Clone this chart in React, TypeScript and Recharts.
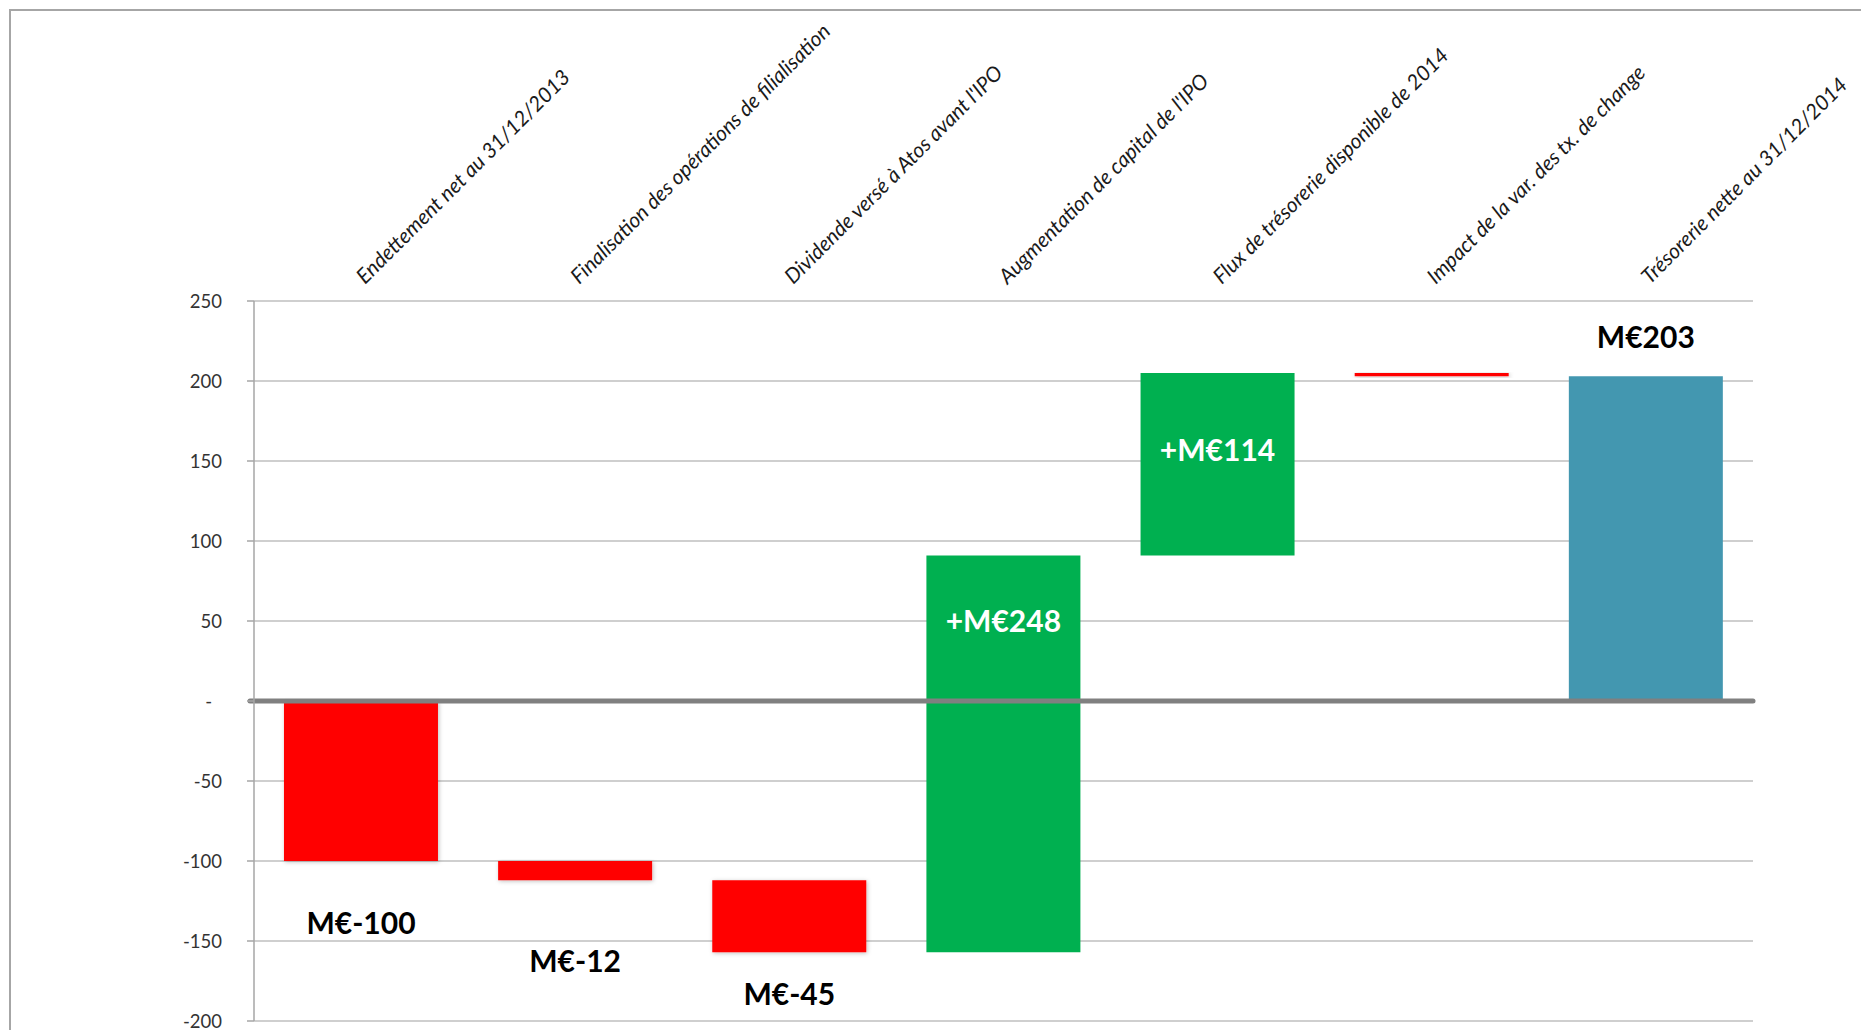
import React from 'react'
import {
  BarChart, Bar, XAxis, YAxis, CartesianGrid, ReferenceLine, Cell, LabelList,
} from 'recharts'

const CATEGORIES = [
  'Endettement net au 31/12/2013',
  'Finalisation des opérations de filialisation',
  "Dividende versé à Atos avant l'IPO",
  "Augmentation de capital de l'IPO",
  'Flux de trésorerie disponible de 2014',
  'Impact de la var. des tx. de change',
  'Trésorerie nette au 31/12/2014',
]
const DELTAS = [-100, -12, -45, 248, 114, -2, 203]
const IS_TOTAL = [true, false, false, false, false, false, true]
const VALUE_LABELS = ['M€-100', 'M€-12', 'M€-45', '+M€248', '+M€114', '', 'M€203']
const Y_TICKS = [-200, -150, -100, -50, 0, 50, 100, 150, 200, 250]

const RED = '#FF0000'
const GREEN = '#00B050'
const TEAL = '#4397B0'
const FONT = 'Lato, "Open Sans", sans-serif'

// where each value label sits: below the bar, inside near the top, or above it
const LABEL_PLACE = ['below', 'below', 'below', 'inside', 'inside', 'none', 'above']
const LABEL_OFFSET = [62, 81, 42, 66, 77, 0, 39]

// waterfall: each step is a [low, high] range bar
let running = 0
const chartData = CATEGORIES.map((name, i) => {
  const start = IS_TOTAL[i] ? 0 : running
  const end = IS_TOTAL[i] ? DELTAS[i] : running + DELTAS[i]
  running = end
  return {
    name,
    range: [Math.min(start, end), Math.max(start, end)],
    delta: DELTAS[i],
    total: IS_TOTAL[i],
    label: VALUE_LABELS[i],
  }
})

const barColor = (d: { delta: number; total: boolean }) => {
  if (d.delta < 0) return RED
  return d.total ? TEAL : GREEN
}

function CategoryTick(props: any) {
  const { x, y, payload } = props
  const tx = x + 4
  return (
    <text
      x={tx}
      y={y}
      transform={`rotate(-45, ${tx}, ${y})`}
      textAnchor="start"
      fontFamily={FONT}
      fontStyle="italic"
      fontSize={21}
      fill="#1a1a1a"
    >
      {payload.value}
    </text>
  )
}

function ValueTick(props: any) {
  const { x, y, payload } = props
  const zero = payload.value === 0
  return (
    <text
      x={zero ? x - 10 : x}
      y={y}
      textAnchor="end"
      dominantBaseline="central"
      fontFamily={FONT}
      fontSize={18.5}
      fill="#333"
    >
      {zero ? '-' : payload.value}
    </text>
  )
}

function ValueLabel(props: any) {
  const { x, y, width, height, index } = props
  const text = VALUE_LABELS[index]
  const place = LABEL_PLACE[index]
  if (!text || place === 'none') return null
  const cx = x + width / 2
  let cy = y
  if (place === 'below') cy = y + height + LABEL_OFFSET[index]
  else if (place === 'inside') cy = y + LABEL_OFFSET[index]
  else cy = y - LABEL_OFFSET[index]
  return (
    <text
      x={cx}
      y={cy + 11}
      textAnchor="middle"
      fontFamily={FONT}
      fontWeight="bold"
      fontSize={30}
      fill={place === 'inside' ? '#fff' : '#000'}
    >
      {text}
    </text>
  )
}

function ZeroLine(props: any) {
  const { x1, x2, y1 } = props
  return (
    <line
      x1={x1 - 4}
      x2={x2}
      y1={y1}
      y2={y1}
      stroke="#808080"
      strokeWidth={5}
      strokeLinecap="round"
    />
  )
}

export default function App() {
  return (
    <div style={{ position: 'absolute', left: 0, top: 0, width: 1861, height: 1030, background: '#fff', overflow: 'hidden' }}>
      <div
        style={{
          position: 'absolute', left: 9, top: 9, width: 1900, height: 1100,
          borderTop: '2px solid #A6A6A6', borderLeft: '2px solid #A6A6A6',
        }}
      />
      <BarChart
        width={1861}
        height={1030}
        data={chartData}
        margin={{ top: 0, right: 108, bottom: 9, left: 0 }}
        barCategoryGap="14%"
        style={{ position: 'absolute', left: 0, top: 0 }}
      >
        <defs>
          <filter id="shadow" x="-10%" y="-10%" width="120%" height="140%">
            <feDropShadow dx="1" dy="1" stdDeviation="2" floodColor="#000" floodOpacity="0.25" />
          </filter>
        </defs>
        <CartesianGrid horizontal vertical={false} stroke="#BFBFBF" strokeWidth={1.5} />
        <XAxis
          dataKey="name"
          orientation="top"
          height={301}
          axisLine={false}
          tickLine={false}
          tickSize={0}
          tickMargin={16}
          interval={0}
          tick={<CategoryTick />}
        />
        <YAxis
          type="number"
          domain={[-200, 250]}
          ticks={Y_TICKS}
          interval={0}
          width={254}
          axisLine={{ stroke: '#A6A6A6', strokeWidth: 1.5 }}
          tickLine={{ stroke: '#A6A6A6', strokeWidth: 1.5 }}
          tickSize={7}
          tickMargin={25}
          tick={<ValueTick />}
        />
        <Bar dataKey="range" isAnimationActive={false}>
          {chartData.map((d, i) => (
            <Cell key={i} fill={barColor(d)} filter={d.delta < 0 ? 'url(#shadow)' : undefined} />
          ))}
          <LabelList dataKey="label" content={<ValueLabel />} />
        </Bar>
        <ReferenceLine y={0} shape={<ZeroLine />} />
      </BarChart>
    </div>
  )
}
